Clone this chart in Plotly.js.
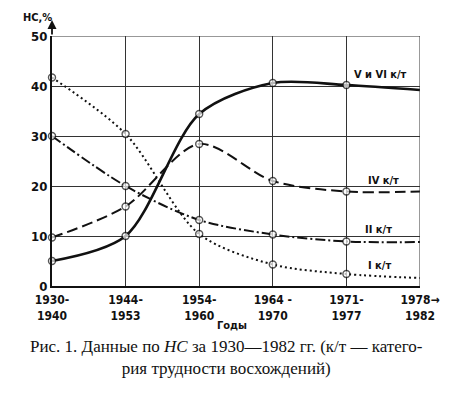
<!DOCTYPE html>
<html><head><meta charset="utf-8">
<script src="https://cdn.plot.ly/plotly-3.0.1.min.js"></script>
<style>html,body{margin:0;padding:0;background:#fff}#chart{width:450px;height:397px}</style>
</head><body><div id="chart"></div>
<script>
const periods = ["1930-<br>1940", "1944-<br>1953", "1954-<br>1960", "1964 -<br>1970", "1971-<br>1977", "1978→<br>1982"];
const seriesNames = ["V и VI к/т", "IV к/т", "II к/т", "I к/т"];
const catVVI = [5, 10, 34.4, 40.6, 40.2, 39.2];
const catIV = [9.7, 15.9, 28.4, 21.0, 18.9, 18.9];
const catII = [30.0, 20.0, 13.2, 10.3, 8.9, 8.8];
const catI = [41.7, 30.4, 10.4, 4.3, 2.4, 1.6];
const yTicks = [0, 10, 20, 30, 40, 50];

const xIdx = periods.map((_, i) => i);
const markerSizes = periods.map((_, i) => i === periods.length - 1 ? 0 : 7);
const font = "DejaVu Sans Condensed, Liberation Sans Narrow, Arial Narrow, sans-serif";

function tr(name, y, dash, width) {
  return {
    x: xIdx, y: y, name: name, type: "scatter", mode: "lines+markers",
    line: {color: "#111", width: width, dash: dash, shape: "spline", smoothing: 0.85},
    marker: {symbol: "circle", size: markerSizes, color: "#ffffff", line: {color: "#111", width: 1.4}},
    cliponaxis: false, showlegend: false, hoverinfo: "skip"
  };
}
const data = [
  tr(seriesNames[3], catI, "2px,3px", 2),
  tr(seriesNames[2], catII, "10px,3px,2px,3px", 2),
  tr(seriesNames[1], catIV, "11px,5px", 2),
  tr(seriesNames[0], catVVI, "solid", 2.6)
];

const labelPos = [[4.08, 42.4], [4.27, 21.2], [4.22, 11.4], [4.27, 4.1]];
const annotations = seriesNames.map((n, i) => ({
  x: labelPos[i][0], y: labelPos[i][1], xref: "x", yref: "y", text: "<b>" + n + "</b>", showarrow: false,
  xanchor: "left", yanchor: "middle", font: {family: font, size: 11, color: "#111"}
}));
annotations.push({x: 0, y: 53.2, ax: 0, ay: 50, xref: "x", yref: "y", axref: "x", ayref: "y",
  showarrow: true, arrowhead: 2, arrowsize: 1, arrowwidth: 1.8, arrowcolor: "#111", text: ""});
annotations.push({x: -0.04, y: 1.075, xref: "paper", yref: "paper", text: "<b>НС,%</b>", showarrow: false,
  xanchor: "center", yanchor: "middle", font: {family: font, size: 11, color: "#111"}});
annotations.push({x: 0.49, y: -0.158, xref: "paper", yref: "paper", text: "<b>Годы</b>", showarrow: false,
  xanchor: "center", yanchor: "middle", font: {family: font, size: 11, color: "#111"}});
annotations.push({x: 0.475, y: -0.285, xref: "paper", yref: "paper",
  text: "Рис. 1. Данные по <i>НС</i> за 1930—1982 гг. (к/т — катего-<br>рия трудности восхождений)",
  showarrow: false, xanchor: "center", yanchor: "middle", align: "center",
  font: {family: "Liberation Serif, DejaVu Serif, serif", size: 17, color: "#111"}});

const layout = {
  width: 450, height: 397,
  margin: {l: 52, r: 30, t: 36, b: 111},
  paper_bgcolor: "#fff", plot_bgcolor: "#fff",
  xaxis: {range: [0, 5], tickvals: xIdx, ticktext: periods.map(p => "<b>" + p + "</b>"), showgrid: true, gridcolor: "#333", gridwidth: 1,
    zeroline: false, showline: true, linecolor: "#111", linewidth: 2, ticks: "", ticklabelstandoff: 2,
    tickfont: {family: font, size: 12, color: "#111"}, fixedrange: true},
  yaxis: {range: [0, 50], tickvals: yTicks, ticktext: yTicks.map(v => "<b>" + v + "</b>"), showgrid: true, gridcolor: "#333", gridwidth: 1,
    zeroline: false, showline: true, linecolor: "#111", linewidth: 2, ticks: "",
    tickfont: {family: font, size: 13, color: "#111"}, fixedrange: true},
  shapes: [
    {type: "line", xref: "x", yref: "y", x0: 5, x1: 5, y0: 0, y1: 50, line: {color: "#333", width: 1}},
    {type: "line", xref: "x", yref: "y", x0: 0, x1: 5, y0: 50, y1: 50, line: {color: "#333", width: 1}}
  ],
  annotations: annotations
};
Plotly.newPlot("chart", data, layout, {staticPlot: true, displayModeBar: false});
</script></body></html>
